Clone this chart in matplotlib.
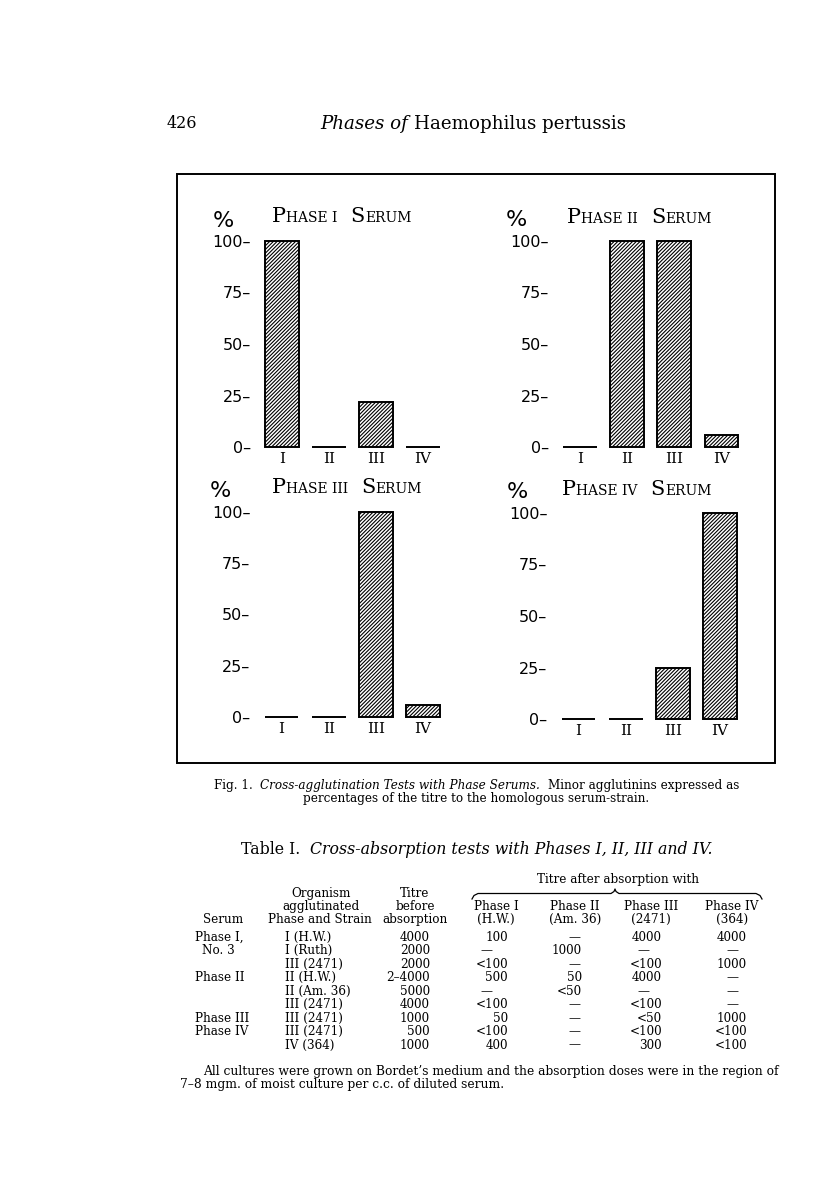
import matplotlib
matplotlib.use("Agg")
import matplotlib.pyplot as plt
from matplotlib.font_manager import FontProperties
from matplotlib.lines import Line2D
from matplotlib.patches import Rectangle

# ---------------- data ----------------
strains = ["I", "II", "III", "IV"]
serum_numerals = ["I", "II", "III", "IV"]
phase1_serum = [100, 0, 22, 0]
phase2_serum = [0, 100, 100, 6]
phase3_serum = [0, 0, 100, 6]
phase4_serum = [0, 0, 25, 100]
ytick_vals = [0, 25, 50, 75, 100]

tbl_serum = ["Phase I,", "No. 3", "", "Phase II", "", "", "Phase III", "Phase IV", ""]
tbl_organism = ["I (H.W.)", "I (Ruth)", "III (2471)", "II (H.W.)", "II (Am. 36)",
                "III (2471)", "III (2471)", "III (2471)", "IV (364)"]
tbl_before = ["4000", "2000", "2000", "2\u20134000", "5000", "4000", "1000", "500", "1000"]
tbl_after_I = ["100", "\u2014", "<100", "500", "\u2014", "<100", "50", "<100", "400"]
tbl_after_II = ["\u2014", "1000", "\u2014", "50", "<50", "\u2014", "\u2014", "\u2014", "\u2014"]
tbl_after_III = ["4000", "\u2014", "<100", "4000", "\u2014", "<100", "<50", "<100", "300"]
tbl_after_IV = ["4000", "\u2014", "1000", "\u2014", "\u2014", "\u2014", "1000", "<100", "<100"]
after_heads = [("Phase I", "(H.W.)"), ("Phase II", "(Am. 36)"),
               ("Phase III", "(2471)"), ("Phase IV", "(364)")]

# ---------------- figure ----------------
W, H = 816, 1191
plt.rcParams["hatch.linewidth"] = 0.8
fig = plt.figure(figsize=(W / 100, H / 100), dpi=100)
fig.patch.set_facecolor("white")
R = fig.canvas.get_renderer()

SERIF = "DejaVu Serif"
SANS = "DejaVu Sans"


def fx(x):
    return x / W


def fy(y):
    return 1 - y / H


def fp(size, style="normal", family=SERIF, weight="normal"):
    return FontProperties(family=family, style=style, size=size, weight=weight)


def tw(s, prop):
    if not s:
        return 0.0
    w, h, d = R.get_text_width_height_descent(s, prop, ismath=False)
    return w


def sw(prop):
    return tw("x x", prop) - tw("xx", prop)


def run_width(runs):
    tot = 0.0
    for s, p in runs:
        lead = len(s) - len(s.lstrip(" "))
        trail = len(s) - len(s.rstrip(" "))
        tot += (lead + trail) * sw(p) + tw(s.strip(" "), p)
    return tot


def draw_runs(runs, x, y, ha="left", va="baseline"):
    tot = run_width(runs)
    if ha == "center":
        x -= tot / 2
    elif ha == "right":
        x -= tot
    for s, p in runs:
        lead = len(s) - len(s.lstrip(" "))
        trail = len(s) - len(s.rstrip(" "))
        x += lead * sw(p)
        core = s.strip(" ")
        fig.text(fx(x), fy(y), core, fontproperties=p, ha="left", va=va)
        x += tw(core, p) + trail * sw(p)


def fit_size(spec, target):
    runs = [(s, fp(10, st)) for s, st in spec]
    return 10 * target / run_width(runs)


def text(x, y, s, prop, ha="left", va="baseline"):
    fig.text(fx(x), fy(y), s, fontproperties=prop, ha=ha, va=va)


# ---------------- page header ----------------
text(167, 128, "426", fp(11.5))
hdr_spec = [("Phases of", "italic"), (" Haemophilus pertussis", "normal")]
hs = fit_size(hdr_spec, 307)
draw_runs([(s, fp(hs, st)) for s, st in hdr_spec], 473, 129, ha="center")

# ---------------- frame ----------------
fig.add_artist(Rectangle((fx(177), fy(763)), (775 - 177) / W, (763 - 174) / H,
                         transform=fig.transFigure, fill=False, lw=1.4,
                         edgecolor="black"))

# ---------------- bar panels ----------------
panels = [
    (phase1_serum, dict(xc0=282, xc3=423, y0=447, y100=241, tx=272, ty=222, px=213, py=221)),
    (phase2_serum, dict(xc0=580, xc3=721.5, y0=447, y100=241, tx=567, ty=223, px=506, py=220)),
    (phase3_serum, dict(xc0=281.5, xc3=423, y0=717, y100=512, tx=272, ty=493, px=210, py=491)),
    (phase4_serum, dict(xc0=578.5, xc3=720, y0=719, y100=513, tx=562, ty=495, px=507, py=492)),
]

big = fp(15)
small = fp(10)
for k, (vals, L) in enumerate(panels):
    sp = (L["xc3"] - L["xc0"]) / 3
    left = L["xc0"] - sp / 2
    right = L["xc3"] + sp / 2
    ax = fig.add_axes([fx(left), fy(L["y0"]), (right - left) / W, (L["y0"] - L["y100"]) / H])
    ax.set_xlim(-0.5, 3.5)
    ax.set_ylim(0, 100)
    ax.patch.set_alpha(0)
    ax.bar(range(len(strains)), vals, width=0.72, color="white", edgecolor="black",
           hatch="/////////", linewidth=1.4, clip_on=False)
    for s in ax.spines.values():
        s.set_visible(False)
    ax.set_xticks(range(len(strains)))
    ax.set_xticklabels(strains, fontproperties=fp(11))
    ax.set_yticks(ytick_vals)
    ax.set_yticklabels([f"{v}\u2013" for v in ytick_vals], fontproperties=fp(11.5, family=SANS))
    ax.tick_params(axis="x", length=0, pad=3.5)
    ax.tick_params(axis="y", length=0, pad=5.5)
    draw_runs([("P", big), ("HASE " + serum_numerals[k], small), ("  S", big), ("ERUM", small)],
              L["tx"], L["ty"])
    text(L["px"], L["py"], "%", fp(16, family=SANS), va="center")

# ---------------- caption ----------------
cap1 = [("Fig. 1.", "normal"), ("  Cross-agglutination Tests with Phase Serums.", "italic"),
        ("  Minor agglutinins expressed as", "normal")]
cs = fit_size(cap1, 527)
draw_runs([(s, fp(cs, st)) for s, st in cap1], 476.5, 789, ha="center")
text(476.5, 802, "percentages of the titre to the homologous serum-strain.", fp(cs), ha="center")

# ---------------- table title ----------------
tt = [("Table I.", "normal"), ("  Cross-absorption tests with Phases I, II, III and IV.", "italic")]
ts = fit_size(tt, 469)
draw_runs([(s, fp(ts, st)) for s, st in tt], 476.5, 854, ha="center")

# ---------------- table ----------------
tsz = fit_size([("Phase and Strain", "normal")], 104)
tp = fp(tsz)
text(618, 883, "Titre after absorption with", tp, ha="center")
brace = [(472, 899), (474, 895.5), (478, 893.5), (611, 893.5), (614, 891.5), (615, 889),
         (616, 891.5), (619, 893.5), (756, 893.5), (760, 895.5), (762, 899)]
fig.add_artist(Line2D([fx(p[0]) for p in brace], [fy(p[1]) for p in brace],
                      transform=fig.transFigure, color="black", lw=0.9))

text(321, 897, "Organism", tp, ha="center")
text(321, 910, "agglutinated", tp, ha="center")
text(320, 923, "Phase and Strain", tp, ha="center")
text(415, 897, "Titre", tp, ha="center")
text(415, 910, "before", tp, ha="center")
text(415, 923, "absorption", tp, ha="center")
text(223, 923, "Serum", tp, ha="center")
col_centers = [496, 575, 651, 732]
for (h1, h2), xc in zip(after_heads, col_centers):
    text(xc, 910, h1, tp, ha="center")
    text(xc, 923, h2, tp, ha="center")

row0, dy = 941, 13.45
serum_x = [195, 202, 195, 195, 195, 195, 195, 195, 195]
val_right = [508, 582, 662, 747]
dash_center = [486, 574, 643, 732]
cols = [tbl_after_I, tbl_after_II, tbl_after_III, tbl_after_IV]
for i in range(len(tbl_organism)):
    y = row0 + dy * i
    if tbl_serum[i]:
        text(serum_x[i], y, tbl_serum[i], tp)
    text(285, y, tbl_organism[i], tp)
    text(430, y, tbl_before[i], tp, ha="right")
    for c, col in enumerate(cols):
        v = col[i]
        if v == "\u2014":
            text(dash_center[c], y, v, tp, ha="center")
        else:
            text(val_right[c], y, v, tp, ha="right")

# ---------------- footnote ----------------
foot1 = "All cultures were grown on Bordet\u2019s medium and the absorption doses were in the region of"
foot2 = "7\u20138 mgm. of moist culture per c.c. of diluted serum."
fs = fit_size([(foot1, "normal")], 574)
text(203, 1075, foot1, fp(fs))
text(180, 1088, foot2, fp(fs))

fig.savefig("out.png", dpi=100, facecolor="white")
